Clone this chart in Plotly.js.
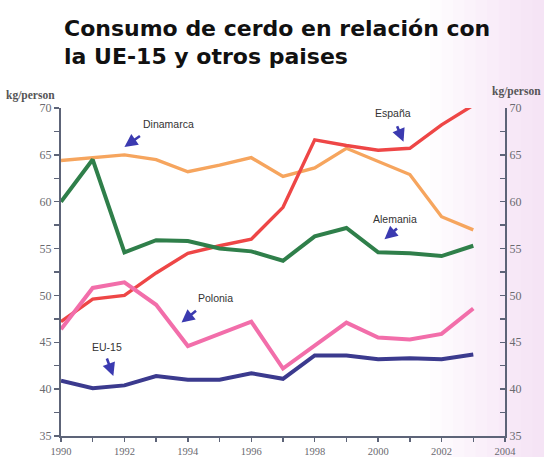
<!DOCTYPE html>
<html>
<head>
<meta charset="utf-8">
<script src="https://cdn.plot.ly/plotly-3.0.1.min.js"></script>
<style>html,body{margin:0;padding:0;background:#fff;}#chart{width:544px;height:457px;}</style>
</head>
<body>
<div id="chart"></div>
<script>
const years = [1990,1991,1992,1993,1994,1995,1996,1997,1998,1999,2000,2001,2002,2003];
const dinamarca = [64.4,64.7,65.0,64.5,63.2,63.9,64.7,62.7,63.6,65.7,64.3,62.9,58.4,57.0];
const espana    = [47.2,49.6,50.0,52.4,54.5,55.3,56.0,59.4,66.6,66.0,65.5,65.7,68.2,70.3];
const alemania  = [60.0,64.5,54.6,55.9,55.8,55.0,54.7,53.7,56.3,57.2,54.6,54.5,54.2,55.3];
const polonia   = [46.4,50.8,51.4,49.0,44.6,45.9,47.2,42.2,44.6,47.1,45.5,45.3,45.9,48.6];
const eu15      = [40.9,40.1,40.4,41.4,41.0,41.0,41.7,41.1,43.6,43.6,43.2,43.3,43.2,43.7];
const seriesNames = ['Dinamarca','España','Alemania','Polonia','EU-15'];
const titleLines = ['Consumo de cerdo en relación con','la UE-15 y otros paises'];
const xTicks = [1990,1991,1992,1993,1994,1995,1996,1997,1998,1999,2000,2001,2002,2003,2004];
const xLabels = ['1990','','1992','','1994','','1996','','1998','','2000','','2002','','2004'];
const yTicks = [35,37.5,40,42.5,45,47.5,50,52.5,55,57.5,60,62.5,65,67.5,70];
const yLabels = ['35','','40','','45','','50','','55','','60','','65','','70'];

const colors = ['#f6a55e','#ee4646','#2f7f4a','#f26eaa','#3b3a8e'];
const data = [dinamarca, espana, alemania, polonia, eu15];
const traces = data.map((v,i)=>({
  x: years, y: v, type:'scatter', mode:'lines', name: seriesNames[i],
  line:{color:colors[i], width: i<2 ? 3.4 : 4}, hoverinfo:'skip'
}));
traces.push({x:[1990], y:[35], yaxis:'y2', mode:'markers', marker:{opacity:0}, showlegend:false, hoverinfo:'skip'});

const axisColor = '#5d6478';
const tickFont = {family:'"Liberation Serif", "DejaVu Serif", serif', size:12, color:'#6a6a70'};

const arrowCol = '#3b3ab0';
function arrow(x,y,ax,ay){
  return {x:x,y:y,xref:'x',yref:'y',text:'',showarrow:true,arrowhead:2,arrowsize:1,arrowwidth:2.6,arrowcolor:arrowCol,ax:ax,ay:ay,standoff:0,startstandoff:0};
}
function label(t,px,py){
  return {x:px,y:py,xref:'paper',yref:'paper',text:t,showarrow:false,xanchor:'center',yanchor:'middle',
    font:{family:'"Liberation Sans", Arial, sans-serif',size:10.5,color:'#333'}};
}
const TOP = 108, BOT = 436;
const PX = p => (p-61)/444;
const PY = p => (BOT-p)/(BOT-TOP);

const annotations = [
  label(seriesNames[0], PX(168), PY(124)),
  label(seriesNames[1], PX(393), PY(113)),
  label(seriesNames[2], PX(395), PY(219)),
  label(seriesNames[3], PX(215), PY(298)),
  label(seriesNames[4], PX(107), PY(347)),
  arrow(1992.0, 65.85, 17, -12),
  arrow(2000.8, 66.4, -7, -17),
  arrow(2000.2, 56.0, 14, -12),
  arrow(1993.8, 47.1, 16, -13),
  arrow(1991.65, 41.4, -7, -19),
  {x:PX(4),y:PY(95),xref:'paper',yref:'paper',text:'<b>kg/person</b>',showarrow:false,xanchor:'left',yanchor:'middle',
   font:{family:'"Liberation Serif", serif',size:11.5,color:'#555'}},
  {x:PX(490),y:PY(92),xref:'paper',yref:'paper',text:'<b>kg/person</b>',showarrow:false,xanchor:'left',yanchor:'middle',
   font:{family:'"Liberation Serif", serif',size:11.5,color:'#555'}},
  {x:PX(62),y:PY(28),xref:'paper',yref:'paper',text:'<b>'+titleLines[0]+'</b>',showarrow:false,xanchor:'left',yanchor:'middle',
   font:{family:'"DejaVu Sans", sans-serif',size:22,color:'#111'}},
  {x:PX(62),y:PY(57),xref:'paper',yref:'paper',text:'<b>'+titleLines[1]+'</b>',showarrow:false,xanchor:'left',yanchor:'middle',
   font:{family:'"DejaVu Sans", sans-serif',size:22,color:'#111'}}
];

const shapes = [];
const steps = 10;
for(let i=0;i<steps;i++){
  const x0 = 430 + i*(114/steps);
  shapes.push({type:'rect',xref:'paper',yref:'paper',x0:PX(x0),x1:PX(544),y0:PY(457),y1:PY(0),
    fillcolor:'rgba(240,200,230,0.05)',line:{width:0},layer:'below'});
}

const layout = {
  width:544, height:457,
  margin:{l:61,r:39,t:TOP,b:457-BOT},
  paper_bgcolor:'#ffffff', plot_bgcolor:'rgba(0,0,0,0)',
  showlegend:false,
  xaxis:{range:[1990,2004], tickmode:'array', tickvals:xTicks, ticktext:xLabels, showgrid:false, zeroline:false,
    showline:true, linecolor:axisColor, linewidth:2, ticks:'outside', ticklen:4, tickwidth:1.5, tickcolor:axisColor,
    tickfont:{family:tickFont.family, size:10.5, color:tickFont.color}},
  yaxis:{range:[35,70], tickmode:'array', tickvals:yTicks, ticktext:yLabels, showgrid:false, zeroline:false,
    showline:true, linecolor:axisColor, linewidth:2, ticks:'outside', ticklen:5, tickwidth:1.5, tickcolor:axisColor,
    tickfont:tickFont},
  yaxis2:{range:[35,70], tickmode:'array', tickvals:yTicks, ticktext:yLabels, overlaying:'y', side:'right', showgrid:false, zeroline:false,
    showline:true, linecolor:axisColor, linewidth:2, ticks:'inside', ticklen:5, tickwidth:1.5, tickcolor:axisColor,
    tickfont:tickFont},
  annotations: annotations,
  shapes: shapes
};
Plotly.newPlot('chart', traces, layout, {staticPlot:true, displayModeBar:false});
</script>
</body>
</html>
